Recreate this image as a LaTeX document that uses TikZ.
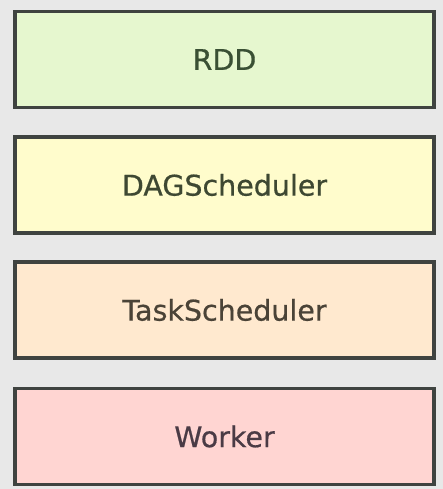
\documentclass[tikz,border=0pt]{standalone}
\usepackage{fontspec}
\newfontfamily\layerfont{DejaVu Sans}[FakeBold=0.6]
\definecolor{bg}{HTML}{E8E8E8}
\definecolor{edge}{HTML}{3F4340}
\definecolor{rddfill}{HTML}{E6F7CF}
\definecolor{dagfill}{HTML}{FFFCCC}
\definecolor{taskfill}{HTML}{FFE9CF}
\definecolor{workfill}{HTML}{FFD5D2}
\definecolor{rddtxt}{HTML}{3A5034}
\definecolor{dagtxt}{HTML}{3E4832}
\definecolor{tasktxt}{HTML}{4A4337}
\definecolor{worktxt}{HTML}{4A3B45}
\begin{document}
\begin{tikzpicture}[x=1pt,y=-1pt,
  layer/.style={draw=edge, line width=3.5pt, minimum width=419pt, minimum height=96pt,
    inner sep=0pt, font=\layerfont\fontsize{28.5}{32}\selectfont}]
\fill[bg] (0,0) rectangle (443,489);
\useasboundingbox (0,0) rectangle (443,489);
\node[layer, fill=rddfill, text=rddtxt]   (rdd)  at (224.5,59.5)  {RDD};
\node[layer, fill=dagfill, text=dagtxt]   (dag)  at (224.5,185)   {DAGScheduler};
\node[layer, fill=taskfill, text=tasktxt] (task) at (224.5,310)   {TaskScheduler};
\node[layer, fill=workfill, text=worktxt] (work) at (224.5,436.5) {Worker};
\end{tikzpicture}
\end{document}
